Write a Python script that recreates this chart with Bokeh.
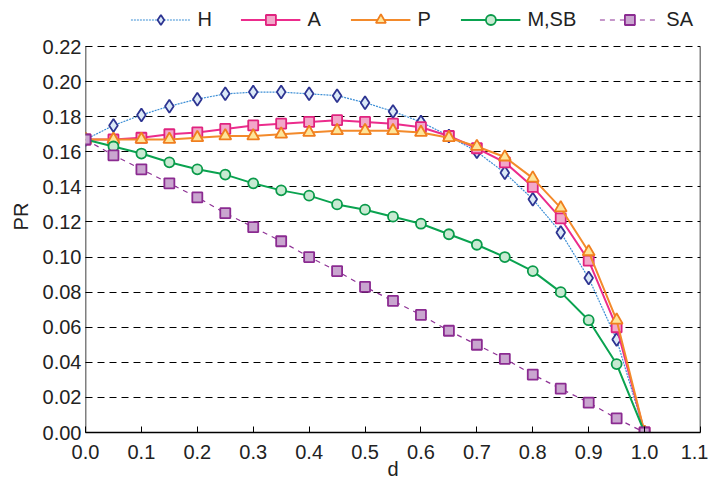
from bokeh.plotting import figure
from bokeh.models import Legend, LegendItem, FixedTicker, Range1d, PrintfTickFormatter
from bokeh.embed import file_html
from bokeh.resources import INLINE

d = [0.0, 0.05, 0.10, 0.15, 0.20, 0.25, 0.30, 0.35, 0.40, 0.45, 0.50,
     0.55, 0.60, 0.65, 0.70, 0.75, 0.80, 0.85, 0.90, 0.95, 1.0]

pr_h = [0.167, 0.175, 0.181, 0.186, 0.190, 0.193, 0.194, 0.194, 0.193, 0.192, 0.188,
        0.183, 0.177, 0.169, 0.160, 0.148, 0.133, 0.114, 0.088, 0.053, 0.0]
pr_a = [0.167, 0.167, 0.168, 0.170, 0.171, 0.173, 0.175, 0.176, 0.177, 0.178, 0.177,
        0.176, 0.174, 0.169, 0.162, 0.154, 0.140, 0.122, 0.098, 0.060, 0.0]
pr_p = [0.167, 0.167, 0.167, 0.167, 0.168, 0.169, 0.169, 0.170, 0.171, 0.172, 0.172,
        0.172, 0.171, 0.168, 0.163, 0.157, 0.145, 0.128, 0.103, 0.064, 0.0]
pr_msb = [0.167, 0.163, 0.159, 0.154, 0.150, 0.147, 0.142, 0.138, 0.135, 0.130, 0.127,
          0.123, 0.119, 0.113, 0.107, 0.100, 0.092, 0.080, 0.064, 0.039, 0.0]
pr_sa = [0.167, 0.158, 0.150, 0.142, 0.134, 0.125, 0.117, 0.109, 0.100, 0.092, 0.083,
         0.075, 0.067, 0.058, 0.050, 0.042, 0.033, 0.025, 0.017, 0.008, 0.0]

x_ticks = [0.0, 0.1, 0.2, 0.3, 0.4, 0.5, 0.6, 0.7, 0.8, 0.9, 1.0, 1.1]
y_ticks = [0.00, 0.02, 0.04, 0.06, 0.08, 0.10, 0.12, 0.14, 0.16, 0.18, 0.20, 0.22]

X_MIN, X_MAX = 0.0, 1.1
Y_MIN, Y_MAX = 0.0, 0.22
# headroom above the top gridline holds the legend strip
Y_TOP = Y_MAX * 432 / 386

FONT = "Liberation Sans"
TEXT = "#222222"

p = figure(width=708, height=487, output_backend="svg", toolbar_location=None,
           x_range=Range1d(X_MIN, X_MAX), y_range=Range1d(Y_MIN, Y_TOP),
           min_border_left=85, min_border_right=8, min_border_top=0,
           min_border_bottom=55)
p.outline_line_color = None
p.background_fill_color = "white"

# axes
for ax in (p.xaxis[0], p.yaxis[0]):
    ax.major_tick_in = 6
    ax.major_tick_out = 0
    ax.minor_tick_line_color = None
    ax.major_tick_line_color = "black"
    ax.major_label_text_font = FONT
    ax.major_label_text_font_size = "20px"
    ax.major_label_text_color = TEXT
    ax.axis_label_text_font = FONT
    ax.axis_label_text_font_size = "20px"
    ax.axis_label_text_font_style = "normal"
    ax.axis_label_text_color = TEXT
p.xaxis.axis_line_color = "black"
p.xaxis.axis_line_width = 1.5
p.yaxis.axis_line_color = None

p.xaxis.ticker = FixedTicker(ticks=x_ticks)
p.yaxis.ticker = FixedTicker(ticks=y_ticks)
p.xaxis.formatter = PrintfTickFormatter(format="%.1f")
p.yaxis.formatter = PrintfTickFormatter(format="%.2f")
p.xaxis.axis_label = "d"
p.yaxis.axis_label = "PR"
p.xaxis.major_label_standoff = 12
p.xaxis.axis_label_standoff = -4
p.yaxis.major_label_standoff = 4
p.yaxis.axis_label_standoff = 8

# grid
p.xgrid.grid_line_color = None
p.ygrid.grid_line_color = "black"
p.ygrid.grid_line_dash = "7 5"
p.ygrid.grid_line_width = 1

# left and right borders of the plotting box, up to the top gridline
p.segment(x0=[X_MIN, X_MAX], y0=[Y_MIN, Y_MIN], x1=[X_MIN, X_MAX], y1=[Y_MAX, Y_MAX],
          line_color="black", line_width=1.5)

# name, values, line colour, width, dash, marker, size, edge, fill
series = [
    ("H", pr_h, "#3d8fd6", 1.2, "2 1", "diamond", 13, "#2e3592", "#dbe9f7"),
    ("A", pr_a, "#ec2c8c", 2.0, "solid", "square", 10, "#e0237f", "#f2a7c9"),
    ("P", pr_p, "#f38a2b", 2.0, "solid", "triangle", 12, "#f07f1f", "#fde59a"),
    ("M,SB", pr_msb, "#0aa350", 2.0, "solid", "circle", 10, "#0a9a4a", "#c8ead2"),
    ("SA", pr_sa, "#8e3195", 1.2, "5 5", "square", 10, "#8b2b91", "#c9a6cf"),
]

items = []
for name, ys, lc, lw, dash, marker, size, mlc, mfc in series:
    r1 = p.line(d, ys, line_color=lc, line_width=lw, line_dash=dash)
    r2 = p.scatter(d, ys, marker=marker, size=size, line_color=mlc,
                   line_width=1.8, fill_color=mfc)
    items.append(LegendItem(label=name, renderers=[r1, r2]))

legend = Legend(items=items, orientation="horizontal", location="top_right")
legend.label_text_font = FONT
legend.label_text_font_size = "20px"
legend.label_text_color = TEXT
legend.glyph_width = 60
legend.glyph_height = 25
legend.spacing = 23
legend.label_standoff = 7
legend.border_line_color = None
legend.background_fill_alpha = 0
legend.margin = 7
legend.padding = 4
p.add_layout(legend)

open("out.html", "w").write(file_html(p, INLINE))
